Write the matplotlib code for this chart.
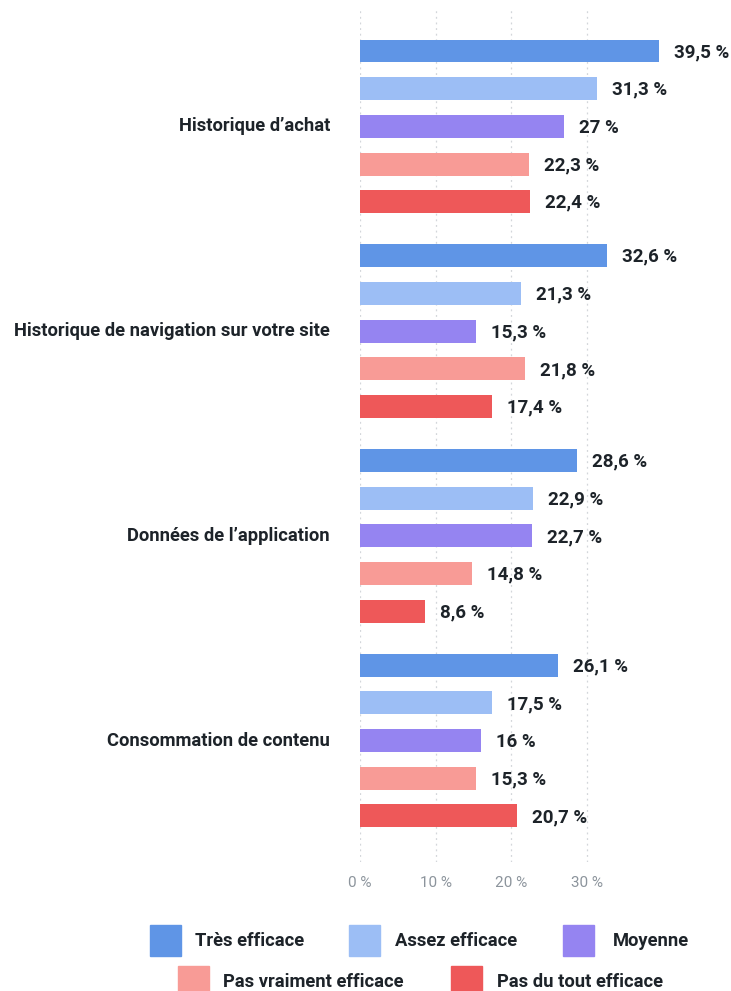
import matplotlib
matplotlib.use("Agg")
import matplotlib.pyplot as plt
from matplotlib.patches import Rectangle

categories = ["Historique d’achat", "Historique de navigation sur votre site",
              "Données de l’application", "Consommation de contenu"]
series = ["Très efficace", "Assez efficace", "Moyenne", "Pas vraiment efficace", "Pas du tout efficace"]
values = {
    "Très efficace":         [39.5, 32.6, 28.6, 26.1],
    "Assez efficace":        [31.3, 21.3, 22.9, 17.5],
    "Moyenne":               [27.0, 15.3, 22.7, 16.0],
    "Pas vraiment efficace": [22.3, 21.8, 14.8, 15.3],
    "Pas du tout efficace":  [22.4, 17.4, 8.6, 20.7],
}
colors = ["#5F95E6", "#9CBEF5", "#9584F1", "#F89B96", "#EE5859"]
xticks = [0, 10, 20, 30]
xticklabels = ["0 %", "10 %", "20 %", "30 %"]

plt.rcParams['font.family'] = ['Roboto', 'DejaVu Sans']
W, H = 731, 991
fig = plt.figure(figsize=(W/100, H/100), dpi=100)

ax_l, ax_r, ax_t, ax_b = 360, 700, 10, 862
ax = fig.add_axes([ax_l/W, 1-ax_b/H, (ax_r-ax_l)/W, (ax_b-ax_t)/H])
pitch = 37.7
group_gap = 5.43
y0_px = 51
ymin = (ax_t - y0_px)/pitch
ymax = (ax_b - y0_px)/pitch
ppu = 75.7/10
ax.set_xlim(0, (ax_r-ax_l)/ppu)
ax.set_ylim(ymax, ymin)

dark = "#1d2329"
for gi, cat in enumerate(categories):
    base = gi*group_gap
    for si, s in enumerate(series):
        y = base + si
        v = values[s][gi]
        ax.barh(y, v, height=0.61, color=colors[si], zorder=3)
        txt = f"{v:g}".replace(".", ",") + " %"
        ax.text(v + 15/ppu, y + 0.03, txt, va="center", ha="left", fontsize=13.5,
                fontweight="bold", color=dark, zorder=4, clip_on=False)
    ax.text(-30/ppu, base + 2, cat, va="center", ha="right", fontsize=13.2,
            fontweight="bold", color=dark, clip_on=False)

ax.set_xticks(xticks)
ax.set_xticklabels(xticklabels, color="#8c949c", fontsize=11)
ax.tick_params(axis="x", length=0, pad=10)
ax.set_yticks([])
ax.grid(axis="x", color="#d3d6da", linestyle=(0, (1.5, 3)), linewidth=0.9, zorder=0)
for sp in ax.spines.values():
    sp.set_visible(False)

# legend (square left x, square top y, text x, text center y, series index)
legend_items = [
    (150, 925, 195, 941, 0), (349, 925, 395, 941, 1), (563, 925, 613, 941, 2),
    (178, 966, 223, 982, 3), (451, 966, 497, 982, 4),
]
for sq_x, sq_y, tx, ty, si in legend_items:
    fig.patches.append(Rectangle((sq_x/W, 1-(sq_y+31)/H), 31/W, 31/H,
                                 transform=fig.transFigure, color=colors[si]))
    fig.text(tx/W, 1-ty/H, series[si], va="center", ha="left", fontsize=13.2,
             fontweight="bold", color=dark)

fig.savefig("out.png", dpi=100)
